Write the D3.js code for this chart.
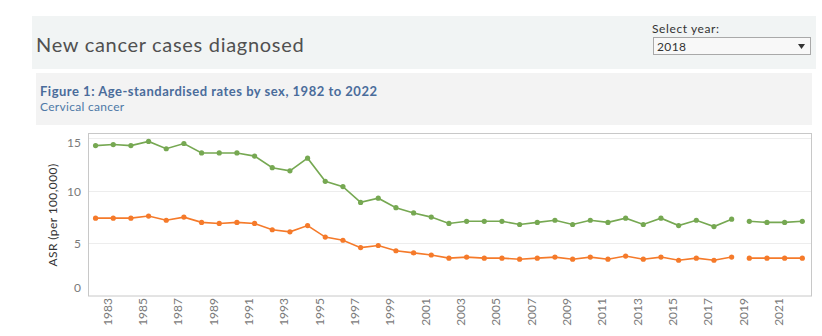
<!DOCTYPE html>
<html>
<head>
<meta charset="utf-8">
<script src="https://cdn.jsdelivr.net/npm/d3@7"></script>
<style>
  body { margin: 0; background: #fff; font-family: Lato, "Open Sans", sans-serif; }
  svg text { font-family: Lato, "Open Sans", sans-serif; }
</style>
</head>
<body>
<div id="chart"></div>
<script>
// data
var years = d3.range(1982, 2023);
var greenValues = [14.3, 14.4, 14.3, 14.7, 14.0, 14.5, 13.6, 13.6, 13.6, 13.3,
                   12.2, 11.9, 13.1, 10.9, 10.4, 8.9, 9.3, 8.4, 7.9, 7.5,
                   6.9, 7.1, 7.1, 7.1, 6.8, 7.0, 7.2, 6.8, 7.2, 7.0,
                   7.4, 6.8, 7.4, 6.7, 7.2, 6.6, 7.3, 7.1, 7.0, 7.0, 7.1];
var orangeValues = [7.4, 7.4, 7.4, 7.6, 7.2, 7.5, 7.0, 6.9, 7.0, 6.9,
                    6.3, 6.1, 6.7, 5.6, 5.3, 4.6, 4.8, 4.3, 4.1, 3.9,
                    3.6, 3.7, 3.6, 3.6, 3.5, 3.6, 3.7, 3.5, 3.7, 3.5,
                    3.8, 3.5, 3.7, 3.4, 3.6, 3.4, 3.7, 3.6, 3.6, 3.6, 3.6];
var yTicks = [0, 5, 10, 15];
var xTickYears = d3.range(1983, 2022, 2);
var lastActualYear = 2018;

const width = 822;
const height = 336;
const plot = { left: 88.5, right: 811.5, top: 133.5, bottom: 296 };

const svg = d3.select("#chart")
  .append("svg")
  .attr("width", width)
  .attr("height", height);

//HEADER

svg.append("rect")
  .attr("x", 32).attr("y", 16)
  .attr("width", 784).attr("height", 53)
  .attr("fill", "#f1f4f4");

svg.append("text")
  .attr("x", 36).attr("y", 52)
  .style("font-size", "20px")
  .style("letter-spacing", "0.7px")
  .style("fill", "#505050")
  .text("New cancer cases diagnosed");

svg.append("text")
  .attr("x", 652).attr("y", 33)
  .style("font-size", "12px")
  .style("letter-spacing", "0.6px")
  .style("fill", "#333")
  .text("Select year:");

svg.append("rect")
  .attr("x", 653.5).attr("y", 37.5)
  .attr("width", 157).attr("height", 17)
  .attr("fill", "#f8f8f8")
  .attr("stroke", "#a9a9a9");

svg.append("text")
  .attr("x", 657).attr("y", 50.5)
  .style("font-size", "12px")
  .style("letter-spacing", "0.4px")
  .style("fill", "#333")
  .text("2018");

svg.append("path")
  .attr("d", "M798,44 L805,44 L801.5,49 Z")
  .attr("fill", "#333");

//FIGURE TITLE PANEL

svg.append("rect")
  .attr("x", 36).attr("y", 73)
  .attr("width", 776).attr("height", 52)
  .attr("fill", "#f3f3f3");

svg.append("text")
  .attr("x", 40).attr("y", 96)
  .style("font-size", "13px")
  .style("font-weight", "bold")
  .style("letter-spacing", "0.5px")
  .style("fill", "#4a6c9b")
  .text("Figure 1: Age-standardised rates by sex, 1982 to 2022");

svg.append("text")
  .attr("x", 40).attr("y", 111)
  .style("font-size", "12px")
  .style("letter-spacing", "0.3px")
  .style("fill", "#4e79a7")
  .text("Cervical cancer");

//SCALES

const xScale = d3.scaleLinear()
  .domain([1981.6, 2022.52])
  .range([plot.left, plot.right]);

const yScale = d3.scaleLinear()
  .domain([0, 15.45])
  .range([plot.bottom, plot.top]);

//GRID AND FRAME

svg.append("g")
  .selectAll("line")
  .data(yTicks.filter(d => d > 0))
  .enter()
  .append("line")
  .attr("x1", plot.left).attr("x2", plot.right)
  .attr("y1", d => Math.round(yScale(d)) + 0.5)
  .attr("y2", d => Math.round(yScale(d)) + 0.5)
  .attr("stroke", "#ededed");

svg.append("rect")
  .attr("x", plot.left).attr("y", plot.top)
  .attr("width", plot.right - plot.left)
  .attr("height", plot.bottom - plot.top)
  .attr("fill", "none")
  .attr("stroke", "#c8c8c8");

//Y AXIS LABELS (edge labels pushed inside like tableau does)

svg.append("g")
  .selectAll("text")
  .data(yTicks)
  .enter()
  .append("text")
  .attr("x", 81)
  .attr("y", d => Math.min(Math.max(yScale(d) + 0.5, plot.top + 9), plot.bottom - 8))
  .attr("dy", "0.35em")
  .attr("text-anchor", "end")
  .style("font-size", "12px")
  .style("fill", "#7a7a7a")
  .text(d => d);

svg.append("text")
  .attr("transform", "translate(57,215) rotate(-90)")
  .attr("text-anchor", "middle")
  .style("font-size", "12px")
  .style("letter-spacing", "0.4px")
  .style("fill", "#333")
  .text("ASR (per 100,000)");

//X AXIS LABELS

svg.append("g")
  .selectAll("text")
  .data(xTickYears)
  .enter()
  .append("text")
  .attr("transform", d => "translate(" + (xScale(d) - 1.5) + "," + (plot.bottom + 2) + ") rotate(-90)")
  .attr("text-anchor", "end")
  .style("font-size", "12px")
  .style("fill", "#7a7a7a")
  .text(d => d);

//LINES AND POINTS

const line = d3.line()
  .x(d => xScale(d.year))
  .y(d => yScale(d.value));

function drawSeries(values, color) {
  var points = years.map((year, i) => ({ year: year, value: values[i] }));
  var segments = [
    points.filter(d => d.year <= lastActualYear),
    points.filter(d => d.year > lastActualYear)
  ];
  svg.append("g")
    .selectAll("path")
    .data(segments)
    .enter()
    .append("path")
    .attr("d", line)
    .attr("fill", "none")
    .attr("stroke", color)
    .attr("stroke-width", 1.6);

  svg.append("g")
    .selectAll("circle")
    .data(points)
    .enter()
    .append("circle")
    .attr("cx", d => xScale(d.year))
    .attr("cy", d => yScale(d.value))
    .attr("r", 2.6)
    .attr("fill", color);
}

drawSeries(greenValues, "#76a852");
drawSeries(orangeValues, "#f57a2a");
</script>
</body>
</html>
